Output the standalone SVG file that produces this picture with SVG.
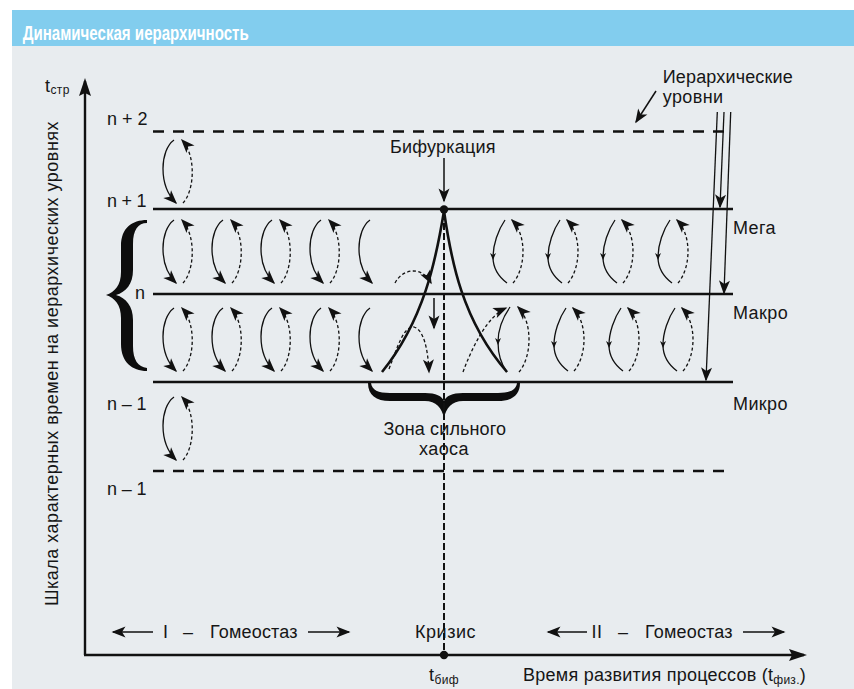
<svg xmlns="http://www.w3.org/2000/svg" width="854" height="689" viewBox="0 0 854 689">
<style>
.t{font-family:"Liberation Sans",Arial,sans-serif;font-size:18px;letter-spacing:0.4px;fill:#161616}
.h{font-family:"Liberation Sans",Arial,sans-serif;font-size:19.5px;font-weight:bold;fill:#ffffff}
.lvl{stroke:#111;stroke-width:2.6;fill:none}
.dl{stroke-dasharray:11 9}
.ax{stroke:#111;stroke-width:2.4;fill:none}
.s{stroke:#111;stroke-width:1.3;fill:none}
.d{stroke:#111;stroke-width:1.3;fill:none;stroke-dasharray:3.2 2.4}
.ln{stroke:#111;stroke-width:1.5;fill:none}
.cusp{stroke:#111;stroke-width:2.6;fill:none}
.vd{stroke:#111;stroke-width:2;fill:none;stroke-dasharray:7 3}
.br{fill:#0d0d0d}
</style>
<defs>
<marker id="ah" markerUnits="userSpaceOnUse" markerWidth="14" markerHeight="11" refX="12.5" refY="5.5" orient="auto" overflow="visible"><path d="M0,0 L14,5.5 L0,11 L3.5,5.5 Z" fill="#111"/></marker>
<marker id="am" markerUnits="userSpaceOnUse" markerWidth="7" markerHeight="6" refX="4" refY="3" orient="auto" overflow="visible"><path d="M0,0 L7,3 L0,6 L2,3 Z" fill="#111"/></marker>
<marker id="ax" markerUnits="userSpaceOnUse" markerWidth="18" markerHeight="12" refX="15" refY="6" orient="auto" overflow="visible"><path d="M0,0 L18,6 L0,12 L3,6 Z" fill="#111"/></marker>
<g id="pL">
<path class="s" d="M11,0 C-3,10 -5,45 13,63" marker-end="url(#ah)"/>
<path class="d" d="M20,63 C32,50 33,15 19,0" marker-end="url(#ah)"/>
</g>
<g id="sL">
<path class="s" d="M11,0 C-3,10 -5,45 13,63" marker-end="url(#ah)"/>
</g>
<g id="pR">
<path class="s" d="M0,0 C-7,10 -12,25 -12,37 C-12,48 -6,57 2,63" marker-mid="url(#am)"/>
<path class="d" d="M8,63 C21,48 22,15 7,0" marker-end="url(#ah)"/>
</g>
</defs>

<rect x="0" y="0" width="854" height="689" fill="#ffffff"/>
<rect x="12" y="10" width="842" height="36" fill="#82CDEE"/>
<rect x="12" y="46" width="842" height="643" fill="#E8ECEF"/>
<text class="h" x="22.7" y="39.5" textLength="226" lengthAdjust="spacingAndGlyphs">Динамическая иерархичность</text>

<g id="levels">
<line class="lvl dl" x1="153" y1="131.5" x2="733" y2="131.5"/>
<line class="lvl" x1="153" y1="209" x2="733" y2="209"/>
<line class="lvl" x1="153" y1="294" x2="733" y2="294"/>
<line class="lvl" x1="153" y1="382" x2="733" y2="382"/>
<line class="lvl dl" x1="153" y1="471" x2="733" y2="471"/>
</g>

<g id="axes">
<path class="ax" d="M85,655 L85,81" marker-end="url(#ax)"/>
<path class="ax" d="M84,655 L804,655" marker-end="url(#ax)"/>
</g>

<g id="brace-left">
<path class="br" d="M147,220 C132,220 121,228 121,246 L121,272 C121,285 115,292 106,295 C115,298 121,305 121,318 L121,344 C121,362 132,371 147,371 L147,368 C138,367 133,360 133,346 L133,320 C133,306 126,298 116,295 C126,292 133,284 133,270 L133,244 C133,230 138,223 147,223 Z"/>
</g>

<g id="brace-chaos">
<path class="br" d="M368,383 C368,395 376,401 390,401 L425,401 C436,401 442,408 444,418 C446,408 452,401 463,401 L498,401 C512,401 520,395 520,383 L517,383 C516,390 510,393 498,393 L463,393 C452,393 446,396 444,401 C442,396 436,393 425,393 L390,393 C378,393 372,390 371,383 Z"/>
</g>

<g id="cycles-left">
<use href="#pL" x="163" y="140"/>
<use href="#pL" x="163" y="220"/>
<use href="#pL" x="212" y="220"/>
<use href="#pL" x="261" y="220"/>
<use href="#pL" x="310" y="220"/>
<use href="#sL" x="359" y="220"/>
<use href="#pL" x="163" y="308"/>
<use href="#pL" x="212" y="308"/>
<use href="#pL" x="261" y="308"/>
<use href="#pL" x="310" y="308"/>
<use href="#sL" x="359" y="308"/>
<use href="#pL" x="163" y="397"/>
</g>

<g id="cycles-right">
<use href="#pR" x="505" y="220"/>
<use href="#pR" x="560" y="220"/>
<use href="#pR" x="615" y="220"/>
<use href="#pR" x="670" y="220"/>
<path class="s" d="M510,307 C503,317 498,330 498,342 C498,354 501,364 507,372" marker-mid="url(#am)"/>
<path class="d" d="M519,372 C532,357 533,322 518,307" marker-end="url(#ah)"/>
<use href="#pR" x="566" y="308"/>
<use href="#pR" x="621" y="308"/>
<use href="#pR" x="675" y="308"/>
</g>

<g id="chaos-zone">
<path class="cusp" d="M444,211 C436,260 424,320 382,372"/>
<path class="cusp" d="M444,211 C451,260 462,320 507,372"/>
<path class="d" d="M395,283 C403,268 422,266 431,283" marker-end="url(#ah)"/>
<path class="ln" d="M434,298 L434,328" marker-end="url(#ah)"/>
<path class="d" d="M389,369 C398,345 404,326 414,327 C424,330 428,350 429,372" marker-end="url(#ah)"/>
<path class="d" d="M463,372 C473,345 488,316 506,308" marker-end="url(#ah)"/>
</g>

<g id="labels">
<text class="t" x="45" y="92">t<tspan font-size="12" dy="2">стр</tspan></text>
<text class="t" x="107" y="125" textLength="41">n + 2</text>
<text class="t" x="107" y="207" textLength="40">n + 1</text>
<text class="t" x="135" y="299">n</text>
<text class="t" x="107" y="410" textLength="40">n – 1</text>
<text class="t" x="107" y="495" textLength="40">n – 1</text>
<text class="t" transform="translate(58,606) rotate(-90)" x="0" y="0" textLength="485">Шкала характерных времен на иерархических уровнях</text>
<text class="t" x="390" y="153" textLength="106">Бифуркация</text>
<text class="t" x="662.7" y="82.5" textLength="130.5">Иерархические</text>
<text class="t" x="662.7" y="103">уровни</text>
<text class="t" x="733" y="233.5">Мега</text>
<text class="t" x="733" y="319">Макро</text>
<text class="t" x="733" y="410">Микро</text>
<text class="t" x="383.5" y="435" textLength="123">Зона сильного</text>
<text class="t" x="444" y="455" text-anchor="middle">хаоса</text>
<text class="t" x="163" y="637.5">I</text>
<text class="t" x="183" y="637.5">–</text>
<text class="t" x="210" y="637.5" textLength="88">Гомеостаз</text>
<text class="t" x="415" y="637.5" textLength="61">Кризис</text>
<text class="t" x="591.5" y="637.5">II</text>
<text class="t" x="618" y="637.5">–</text>
<text class="t" x="645" y="637.5" textLength="88">Гомеостаз</text>
<text class="t" x="429" y="681">t<tspan font-size="12" dy="3">биф</tspan></text>
<text class="t" x="523" y="681" style="letter-spacing:0.25px">Время развития процессов (t<tspan font-size="12" dy="3">физ.</tspan><tspan dy="-3">)</tspan></text>
</g>

<g id="connectors">
<path class="ln" d="M656,91 L636,122" marker-end="url(#ah)"/>
<path class="s" d="M724,112 L720,207" marker-end="url(#ah)"/>
<path class="s" d="M730.7,112 L724,293" marker-end="url(#ah)"/>
<path class="s" d="M717.3,112 L706,380" marker-end="url(#ah)"/>
<path class="ln" d="M444,158 L444,201" marker-end="url(#ah)"/>
<path class="vd" d="M444,213 L444,652"/>
<circle cx="444" cy="209.5" r="4.2" fill="#111"/>
<circle cx="444" cy="655" r="4.2" fill="#111"/>
<path class="ln" d="M153,632 L113,632" marker-end="url(#ah)"/>
<path class="ln" d="M308,632 L349,632" marker-end="url(#ah)"/>
<path class="ln" d="M587,632 L548,632" marker-end="url(#ah)"/>
<path class="ln" d="M743,632 L784,632" marker-end="url(#ah)"/>
</g>
</svg>
